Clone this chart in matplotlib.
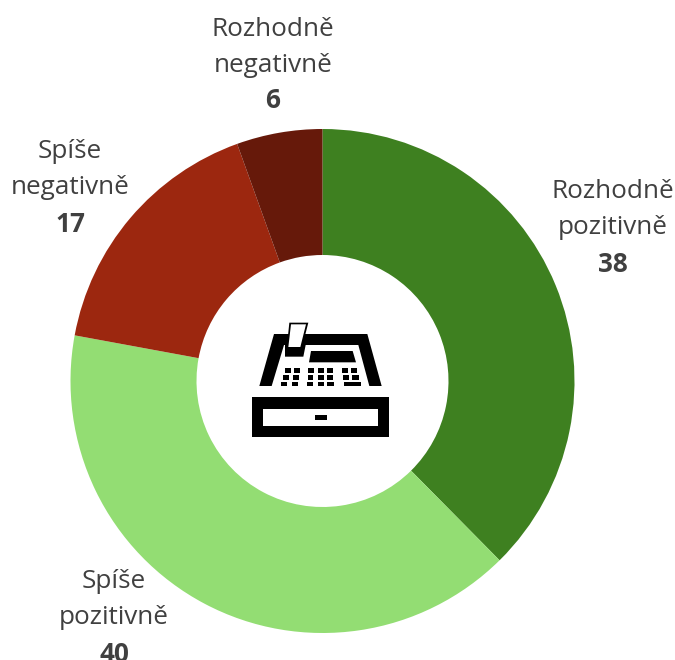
import matplotlib
matplotlib.use("Agg")
import matplotlib.pyplot as plt
from matplotlib.patches import Polygon

categories = ["Rozhodně\npozitivně", "Spíše\npozitivně", "Spíše\nnegativně", "Rozhodně\nnegativně"]
values = [37.6, 40.3, 16.6, 5.5]
labels = ["38", "40", "17", "6"]
colors = ["#3E8020", "#93DD73", "#9C270F", "#66190A"]
label_pos = [(613, 228), (114, 618), (70, 188), (273, 65)]

plt.rcParams['font.family'] = ['Open Sans', 'DejaVu Sans']
W, H = 675, 660
fig = plt.figure(figsize=(W/100, H/100), dpi=100)
ax = fig.add_axes([0, 0, 1, 1])
ax.pie(values, colors=colors, startangle=90, counterclock=False,
       center=(322.5, H-381), radius=252, frame=True,
       wedgeprops=dict(width=126, linewidth=0))
ax.set_xlim(0, W)
ax.set_ylim(0, H)
ax.set_aspect('equal')
ax.axis('off')

for cat, lab, (x, y) in zip(categories, labels, label_pos):
    l1, l2 = cat.split("\n")
    for txt, dy, w in ((l1, -36, 'normal'), (l2, 0, 'normal'), (lab, 36, 'bold')):
        ax.text(x, H-(y+dy), txt, ha='center', va='center', fontsize=18.8,
                fontweight=w, color='#404040', clip_on=False)

# cash register icon, traced in the zoomed crop's coordinates
def ico(pts, c='black'):
    ax.add_patch(Polygon([(230+x/3, H-(300+y/3)) for x, y in pts], closed=True,
                         fc=c, ec='none', zorder=5))

ico([(88,258),(132,102),(412,102),(455,258),(418,258),(385,135),(162,135),(125,258)])
ico([(165,130),(228,130),(220,170),(165,170)])
ico([(178,68),(235,68),(215,146),(170,146)])
ico([(183,73),(228,73),(211,141),(175,141)], 'white')
ico([(243,153),(368,153),(378,187),(237,187)])
key_rows = [
    (205, 219, [(164,182),(192,210),(235,251),(265,281),(292,308),(337,353),(364,380)]),
    (225, 239, [(158,177),(188,207),(233,250),(264,281),(292,310),(339,358),(367,387)]),
    (245, 259, [(153,172),(185,204),(231,250),(263,282),(292,312),(341,392)]),
]
for y0, y1, keys in key_rows:
    for x0, x1 in keys:
        ico([(x0,y0),(x1,y0),(x1,y1),(x0,y1)])
ico([(65,292),(478,292),(478,412),(65,412)])
ico([(98,326),(445,326),(445,379),(98,379)], 'white')
ico([(255,344),(290,344),(290,360),(255,360)])

fig.savefig("out.png", dpi=100)
